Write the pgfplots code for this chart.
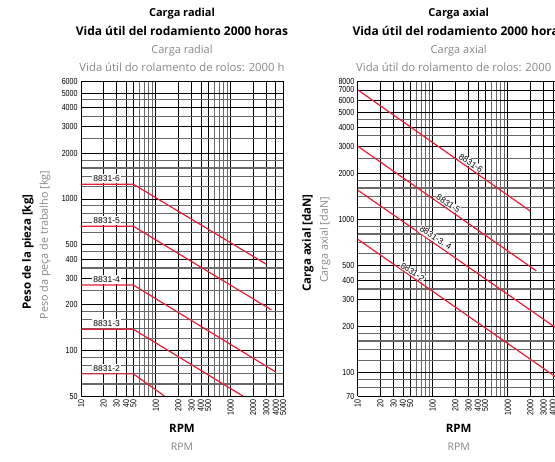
\documentclass[border=0pt]{standalone}
\usepackage{fontspec}
\setmainfont{Open Sans}
\newfontfamily\tickfont[FakeStretch=0.8]{Liberation Sans}
\newfontfamily\labfont{Liberation Sans}
\usepackage{pgfplots}
\pgfplotsset{compat=1.18}
\pgfkeys{/pgf/number format/assume math mode=true}
\definecolor{rl}{RGB}{236,28,52}
\definecolor{gtxt}{RGB}{135,135,135}
\definecolor{ggrid}{RGB}{105,105,105}
\tikzset{llab/.style={fill=white, anchor=south, inner sep=1.4pt, yshift=0.8pt, font=\fontsize{8.5}{9}\labfont},
  rlab/.style={fill=white, rotate=-33, anchor=south, inner sep=0.6pt, yshift=0.6pt, font=\fontsize{8.5}{9}\labfont},
  rline/.style={color=rl, line width=1.2pt, mark=none},
  btit/.style={font=\bfseries\fontsize{#1}{13}\selectfont},
  gtit/.style={gtxt, font=\fontsize{#1}{13}\selectfont}}
\begin{document}
\begin{tikzpicture}
\useasboundingbox (0pt,0pt) rectangle (555pt,462pt);
% ---------- left chart ----------
\begin{axis}[
  xmode=log, ymode=log, scale only axis, width=202pt, height=315pt,
  xmin=10, xmax=5000,
  xtick={10,20,30,40,50,100,200,300,400,500,1000,2000,3000,4000,5000},
  xticklabels={10,20,30,40,50,100,200,300,400,500,1000,2000,3000,4000,5000},
  minor xtick={60,70,80,90,600,700,800,900},
  x tick label style={rotate=90, anchor=east, font=\fontsize{8.8}{9}\tickfont},
  y tick label style={font=\fontsize{8.8}{9}\tickfont},
  major tick length=0pt, minor tick length=0pt,
  grid=both,
  major grid style={black, line width=0.7pt},
  minor grid style={ggrid, line width=1.1pt},
  axis line style={black, line width=0.8pt},
  anchor=south west, at={(81pt,66pt)},
  ymin=50, ymax=6000,
  ytick={50,100,200,300,400,500,1000,2000,3000,4000,5000,6000},
  yticklabels={50,100,200,300,400,500,1000,2000,3000,4000,5000,6000},
  minor ytick={60,70,80,90,120,140,160,180,250,350,450,600,700,800,900,1200,1400,1600,1800,2500,3500,4500},
]
\addplot[rline] coordinates {(10,1250) (50,1250) (3000,370)};
\addplot[rline] coordinates {(10,660) (50,660) (3500,185)};
\addplot[rline] coordinates {(10,270) (50,270) (4000,72)};
\addplot[rline] coordinates {(10,138) (50,138) (1450,50)};
\addplot[rline] coordinates {(10,70) (50,70) (130,50)};
\node[llab] at (axis cs:22,1250) {8831-6};
\node[llab] at (axis cs:22,660) {8831-5};
\node[llab] at (axis cs:22,270) {8831-4};
\node[llab] at (axis cs:22,138) {8831-3};
\node[llab] at (axis cs:22,70) {8831-2};
\end{axis}
% ---------- right chart (cut at the picture's right edge) ----------
\begin{axis}[
  xmode=log, ymode=log, scale only axis, width=197.3pt, height=315pt,
  xmin=10, xmax=4270,
  axis x line*=bottom, axis y line*=left,
  xtick={10,20,30,40,50,100,200,300,400,500,1000,2000,3000,4000},
  xticklabels={10,20,30,40,50,100,200,300,400,500,1000,2000,3000,4000},
  minor xtick={60,70,80,90,600,700,800,900},
  x tick label style={rotate=90, anchor=east, font=\fontsize{8.8}{9}\tickfont},
  y tick label style={font=\fontsize{8.8}{9}\tickfont},
  major tick length=0pt, minor tick length=0pt,
  grid=both,
  major grid style={black, line width=0.7pt},
  minor grid style={ggrid, line width=1.1pt},
  axis line style={black, line width=0.8pt, -},
  anchor=south west, at={(357.7pt,66pt)},
  ymin=70, ymax=8000,
  ytick={70,100,200,300,400,500,1000,2000,3000,4000,5000,6000,7000,8000},
  yticklabels={70,100,200,300,400,500,1000,2000,3000,4000,5000,6000,7000,8000},
  minor ytick={80,90,120,140,160,180,250,350,450,600,700,800,900,1200,1400,1600,1800,2500,3500,4500},
]
\addplot[rline] coordinates {(10,7000) (2000,1130)};
\addplot[rline] coordinates {(10,3000) (2400,460)};
\addplot[rline] coordinates {(10,1550) (4270,197)};
\addplot[rline] coordinates {(10,740) (4270,94)};
\node[rlab] at (axis cs:300,2202) {8831-6};
\node[rlab] at (axis cs:150,1194) {8831-5};
\node[rlab] at (axis cs:100,708) {8831-3, 4};
\node[rlab] at (axis cs:50,428) {8831-2};
\end{axis}
% ---------- titles and labels ----------
\node[btit=11] at (182pt,448pt) {Carga radial};
\node[btit=12] at (182pt,431pt) {Vida útil del rodamiento 2000 horas};
\node[gtit=11] at (182pt,411pt) {Carga radial};
\node[gtit=11.3] at (182pt,395pt) {Vida útil do rolamento de rolos: 2000 h};
\node[btit=11] at (458.7pt,448pt) {Carga axial};
\node[btit=12] at (458.7pt,431pt) {Vida útil del rodamiento 2000 horas};
\node[gtit=11] at (458.7pt,411pt) {Carga axial};
\node[gtit=11.3] at (458.7pt,395pt) {Vida útil do rolamento de rolos: 2000 h};
\node[rotate=90, btit=11.5] at (28pt,210pt) {Peso de la pieza [kg]};
\node[rotate=90, gtit=10.8] at (45pt,217pt) {Peso da peça de trabalho [kg]};
\node[rotate=90, btit=11.5] at (308pt,219pt) {Carga axial [daN]};
\node[rotate=90, gtit=10.8] at (325pt,222pt) {Carga axial [daN]};
\node[btit=11.5] at (182pt,34pt) {RPM};
\node[gtit=10.5] at (182pt,15pt) {RPM};
\node[btit=11.5] at (458.7pt,34pt) {RPM};
\node[gtit=10.5] at (458.7pt,15pt) {RPM};
\end{tikzpicture}
\end{document}
